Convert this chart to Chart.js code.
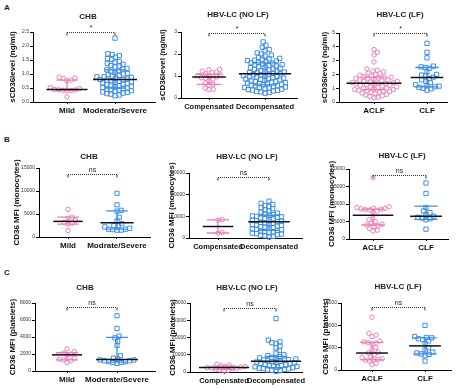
<!DOCTYPE html>
<html>
<head>
<meta charset="utf-8">
<script src="https://cdn.jsdelivr.net/npm/chart.js@4.4.1/dist/chart.umd.min.js"></script>
<style>
body { margin: 0; background: #fff; width: 457px; height: 388px; overflow: hidden; position: relative; font-family: "Liberation Sans", Arial, sans-serif; }
canvas { position: absolute; left: 0; top: 0; }
.tag { position: absolute; font-weight: bold; font-size: 8px; color: #222; }
</style>
</head>
<body>
<div class="tag" style="left:4px;top:3px">A</div>
<div class="tag" style="left:4px;top:135px">B</div>
<div class="tag" style="left:4px;top:268px">C</div>
<script>
// ---- values ----
var colTitles = ["CHB", "HBV-LC (NO LF)", "HBV-LC (LF)"];
var rowYTitles = ["sCD36level (ng/ml)", "CD36 MFI (monocytes)", "CD36 MFI (platelets)"];
var catNames = [
	["Mild", "Moderate/Severe"], ["Compensated", "Decompensated"], ["ACLF", "CLF"],
	["Mild", "Modrate/Severe"], ["Compensated", "Decompensated"], ["ACLF", "CLF"],
	["Mild", "Moderate/Severe"], ["Compensated", "Decompensated"], ["ACLF", "CLF"]
];
var sigLabels = ["*", "*", "*", "ns", "ns", "ns", "ns", "ns", "ns"];
var yMax = [2.5, 3, 5, 15000, 30000, 20000, 8000, 40000, 15000];
var yStep = [0.5, 1, 1, 5000, 10000, 5000, 2000, 10000, 5000];
var bracketAt = [2.5, 2.95, 5.0, 13800, 28000, 18300, 7550, 37100, 14000];

// A: soluble CD36
var solChbMild = [0.88, 0.86, 0.84, 0.78, 0.76, 0.52, 0.48, 0.45, 0.44, 0.43, 0.42, 0.41, 0.4, 0.18];
var solChbSevere = [2.28, 1.72, 1.7, 1.66, 1.6, 1.55, 1.52, 1.45, 1.42, 1.38, 1.35, 1.3, 1.28, 1.25, 1.2,
	1.18, 1.15, 1.12, 1.1, 1.05, 1.02, 1.0, 0.98, 0.95, 0.93, 0.9, 0.9, 0.88, 0.85, 0.82, 0.8, 0.8, 0.78,
	0.76, 0.74, 0.72, 0.7, 0.68, 0.66, 0.64, 0.62, 0.6, 0.58, 0.56, 0.54, 0.52, 0.5, 0.48, 0.46, 0.44,
	0.42, 0.4, 0.38, 0.36, 0.34, 0.32, 0.3, 0.28, 0.25, 0.22];
var solLcComp = [1.3, 1.28, 1.22, 1.18, 1.15, 1.1, 1.05, 1.02, 1.0, 0.96, 0.92, 0.9, 0.85, 0.78, 0.68,
	0.62, 0.58, 0.45, 0.4, 0.38];
var solLcDecomp = [2.55, 2.4, 2.3, 2.2, 2.15, 2.05, 2.0, 1.95, 1.9, 1.85, 1.8, 1.78, 1.75, 1.72, 1.7, 1.68,
	1.65, 1.62, 1.6, 1.58, 1.55, 1.52, 1.5, 1.48, 1.45, 1.42, 1.4, 1.38, 1.35, 1.32, 1.3, 1.28, 1.25, 1.22,
	1.2, 1.18, 1.16, 1.15, 1.12, 1.1, 1.08, 1.06, 1.05, 1.02, 1.0, 0.98, 0.96, 0.95, 0.92, 0.9, 0.88, 0.86,
	0.85, 0.82, 0.8, 0.78, 0.76, 0.75, 0.72, 0.7, 0.68, 0.66, 0.65, 0.62, 0.6, 0.58, 0.56, 0.55, 0.52, 0.5,
	0.48, 0.46, 0.45, 0.42, 0.4, 0.38, 0.36, 0.35, 0.32, 0.3, 0.28, 0.25, 0.22];
var solLfAclf = [3.8, 3.6, 3.4, 2.9, 2.4, 2.3, 2.25, 2.2, 2.1, 2.05, 2.0, 1.95, 1.9, 1.85, 1.8, 1.8, 1.75,
	1.7, 1.7, 1.65, 1.6, 1.6, 1.55, 1.5, 1.5, 1.45, 1.4, 1.4, 1.38, 1.35, 1.3, 1.3, 1.25, 1.2, 1.2, 1.15,
	1.1, 1.1, 1.05, 1.0, 1.0, 0.95, 0.9, 0.9, 0.85, 0.8, 0.8, 0.75, 0.7, 0.7, 0.65, 0.6, 0.55, 0.5, 0.45,
	0.4, 0.35, 0.3];
var solLfClf = [4.25, 3.6, 3.2, 2.6, 2.55, 2.5, 2.45, 2.2, 2.0, 1.95, 1.9, 1.8, 1.7, 1.6, 1.5, 1.4, 1.25,
	1.2, 1.15, 1.1, 1.05, 1.0, 0.95, 0.85];

// B: monocyte CD36 MFI
var monoChbMild = [6000, 4300, 4100, 3600, 3200, 3000, 2800, 1400];
var monoChbSevere = [9500, 7000, 5800, 5600, 4300, 3500, 2900, 2500, 2400, 2200, 1900, 1700, 1700, 1600, 1500, 1500];
var monoLcComp = [8500, 8200, 2600, 2200];
var monoLcDecomp = [17000, 16000, 15500, 15000, 14500, 14000, 13500, 13000, 12500, 12000, 11500, 11000,
	10800, 10500, 10200, 10000, 9800, 9500, 9200, 9000, 8800, 8500, 8200, 8000, 7800, 7500, 7200, 7000,
	6800, 6500, 6200, 6000, 5800, 5500, 5200, 5000, 4800, 4500, 4200, 4000, 3800, 3500, 3200, 3000, 2800,
	2500, 2200, 2000, 1800, 1500, 1200, 1000, 800, 500];
var monoLfAclf = [17500, 9200, 9000, 8800, 8700, 8600, 8500, 8400, 8300, 8000, 7500, 6000, 5500, 5000,
	4500, 4200, 4000, 3800, 3500, 3000, 2500, 2300];
var monoLfClf = [16000, 13000, 9000, 8000, 7500, 7000, 6500, 6200, 6000, 5800, 5500, 2800];

// C: platelet CD36 MFI
var pltChbMild = [2600, 2300, 2100, 2000, 1800, 1500, 1400, 1300, 1200, 1000];
var pltChbSevere = [6500, 5000, 4100, 3900, 3500, 3000, 1800, 1500, 1400, 1300, 1300, 1200, 1200, 1100,
	1100, 1000, 1000, 900];
var pltLcComp = [4500, 4000, 3600, 3200, 3000, 2800, 2500, 2300, 2000, 1800, 1500, 1200, 1000, 600];
var pltLcDecomp = [31000, 18500, 17500, 17000, 16500, 15000, 14000, 12500, 11000, 10000, 9500, 9000, 8500,
	8200, 8000, 7500, 7200, 7000, 6800, 6500, 6200, 6000, 5800, 5500, 5200, 5000, 4800, 4500, 4200, 4000,
	3800, 3500, 3200, 3000, 2800, 2500, 2200, 2000, 1800, 1500, 1200, 1000, 800, 500];
var pltLfAclf = [11800, 8200, 7800, 7500, 6500, 6300, 6200, 6000, 5800, 5000, 4500, 4000, 3800, 3500,
	3000, 2800, 2500, 2400, 2300, 2200, 2000, 1500, 1200];
var pltLfClf = [10000, 7500, 7300, 7200, 7000, 6800, 6500, 6000, 5000, 4500, 4000, 3800, 3600, 3500, 3200, 2000];

// medians and interquartile ranges [left group, right group]
var medians = [[0.45, 0.8], [0.95, 1.1], [1.35, 1.78], [3400, 3100], [5300, 7500], [6800, 6500],
	[1900, 1350], [2600, 6300], [3800, 5400]];
var q1s = [[0.42, 0.5], [0.62, 0.6], [0.9, 1.1], [2800, 1700], [2300, 3500], [4000, 5600],
	[1300, 1050], [1500, 2500], [2300, 3600]];
var q3s = [[0.78, 1.15], [1.08, 1.6], [1.8, 2.5], [4300, 5700], [8400, 10500], [8500, 9400],
	[2150, 3950], [3500, 9000], [6200, 7200]];

var groups = [
	[solChbMild, solChbSevere], [solLcComp, solLcDecomp], [solLfAclf, solLfClf],
	[monoChbMild, monoChbSevere], [monoLcComp, monoLcDecomp], [monoLfAclf, monoLfClf],
	[pltChbMild, pltChbSevere], [pltLcComp, pltLcDecomp], [pltLfAclf, pltLfClf]
];

// ---- layout (pixels): plot box, category centres, title spot, y-title x ----
var boxes = [
	{ l: 33, t: 32, r: 155, b: 102, c0: 67, c1: 115, tx: 88, ty: 17, yt: 13 },
	{ l: 181, t: 32, r: 297, b: 98, c0: 209, c1: 265, tx: 238, ty: 15, yt: 163 },
	{ l: 339, t: 33, r: 447, b: 102, c0: 374, c1: 427, tx: 400, ty: 15, yt: 325 },
	{ l: 39, t: 168, r: 150, b: 237, c0: 68, c1: 117, tx: 89, ty: 157, yt: 17 },
	{ l: 189, t: 173, r: 302, b: 238, c0: 218, c1: 269, tx: 247, ty: 157, yt: 172 },
	{ l: 349, t: 169, r: 448, b: 239, c0: 373, c1: 426, tx: 402, ty: 156, yt: 332 },
	{ l: 35, t: 303, r: 155, b: 371, c0: 67, c1: 117, tx: 85, ty: 288, yt: 13 },
	{ l: 190, t: 303, r: 302, b: 372, c0: 224, c1: 276, tx: 247, ty: 288, yt: 173 },
	{ l: 341, t: 303, r: 451, b: 370, c0: 372, c1: 425, tx: 398, ty: 287, yt: 326 }
];
var colors = ["#ec7fb8", "#3f8ee6"];
var FONT = '"Liberation Sans", Arial, sans-serif';
Chart.defaults.font.family = FONT;

// simple beeswarm: spread points sideways so the markers do not sit on top of each other
function swarm(vals, centre, pxX, pxY, d) {
	var placed = [];
	var out = [];
	var order = vals.map(function(v, k) { return k; }).sort(function(a, b) { return vals[a] - vals[b]; });
	order.forEach(function(k) {
		var y = vals[k] * pxY;
		var cands = [0];
		placed.forEach(function(p) {
			var dy = Math.abs(p.y - y);
			if (dy < d) {
				var dx = Math.sqrt(d * d - dy * dy);
				cands.push(p.x + dx, p.x - dx);
			}
		});
		cands.sort(function(a, b) { return Math.abs(a) - Math.abs(b); });
		var x = cands.find(function(c) {
			return placed.every(function(p) {
				return (p.x - c) * (p.x - c) + (p.y - y) * (p.y - y) >= d * d - 0.01;
			});
		});
		placed.push({ x: x, y: y });
		out[k] = { x: centre + x / pxX, y: vals[k] };
	});
	return out;
}

var overlay = {
	id: "overlay",
	afterDatasetsDraw: function(chart) {
		var i = chart.options.panelIndex;
		var ctx = chart.ctx;
		var xs = chart.scales.x, ys = chart.scales.y;
		var box = boxes[i];

		ctx.save();
		// interquartile bars and medians
		for (var g = 0; g < 2; g++) {
			var pts = chart.data.datasets[g].data;
			var spread = 0;
			pts.forEach(function(p) { spread = Math.max(spread, Math.abs(p.x - g)); });
			var half = Math.max(0.3, spread + 0.08);
			var cx = xs.getPixelForValue(g);
			var capL = xs.getPixelForValue(g - 0.22), capR = xs.getPixelForValue(g + 0.22);
			var yq1 = ys.getPixelForValue(q1s[i][g]), yq3 = ys.getPixelForValue(q3s[i][g]);
			ctx.strokeStyle = colors[g];
			ctx.lineWidth = 1.3;
			ctx.setLineDash([]);
			ctx.beginPath();
			ctx.moveTo(cx, yq1); ctx.lineTo(cx, yq3);
			ctx.moveTo(capL, yq1); ctx.lineTo(capR, yq1);
			ctx.moveTo(capL, yq3); ctx.lineTo(capR, yq3);
			ctx.stroke();

			var ym = ys.getPixelForValue(medians[i][g]);
			ctx.strokeStyle = "#111";
			ctx.lineWidth = 1.5;
			ctx.beginPath();
			ctx.moveTo(xs.getPixelForValue(g - half), ym);
			ctx.lineTo(xs.getPixelForValue(g + half), ym);
			ctx.stroke();
		}

		// significance bracket
		var by = Math.round(ys.getPixelForValue(bracketAt[i])) + 0.5;
		var bx0 = xs.getPixelForValue(0), bx1 = xs.getPixelForValue(1);
		ctx.strokeStyle = "#333";
		ctx.lineWidth = 1;
		ctx.setLineDash([1, 1]);
		ctx.beginPath();
		ctx.moveTo(bx0, by); ctx.lineTo(bx1, by);
		ctx.stroke();
		ctx.setLineDash([]);
		ctx.beginPath();
		ctx.moveTo(bx0, by); ctx.lineTo(bx0, by + 3);
		ctx.moveTo(bx1, by); ctx.lineTo(bx1, by + 3);
		ctx.stroke();
		ctx.fillStyle = "#222";
		ctx.textAlign = "center";
		ctx.textBaseline = "bottom";
		ctx.font = "7px " + FONT;
		ctx.fillText(sigLabels[i], (bx0 + bx1) / 2, by - 1);

		// panel title
		ctx.font = "bold 8px " + FONT;
		ctx.textBaseline = "middle";
		ctx.fillText(colTitles[i % 3], box.tx, box.ty);
		ctx.restore();
	}
};

function makePanel(i) {
	var box = boxes[i];
	var cv = document.createElement("canvas");
	cv.width = 457;
	cv.height = 388;
	document.body.appendChild(cv);

	var unit = box.c1 - box.c0;
	var xmin = -(box.c0 - box.l) / unit;
	var xmax = 1 + (box.r - box.c1) / unit;
	var pxY = (box.b - box.t) / yMax[i];
	var padLeft = box.yt - 5;
	var xh = 16;
	var catSize = (i % 3 === 1) ? 7.5 : 8;

	var datasets = groups[i].map(function(vals, g) {
		return {
			data: swarm(vals, g, unit, pxY, 4.3),
			pointStyle: g === 0 ? "circle" : "rect",
			pointRadius: g === 0 ? 2.2 : 3.0,
			pointBorderWidth: 1,
			pointBorderColor: colors[g],
			pointBackgroundColor: "rgba(255,255,255,0)",
			clip: false
		};
	});

	new Chart(cv, {
		type: "scatter",
		data: { datasets: datasets },
		options: {
			panelIndex: i,
			responsive: false,
			animation: false,
			devicePixelRatio: 1,
			events: [],
			layout: { padding: { left: padLeft, top: box.t, right: 457 - box.r, bottom: 388 - box.b - xh } },
			plugins: { legend: { display: false }, tooltip: { enabled: false } },
			scales: {
				x: {
					type: "linear",
					min: xmin,
					max: xmax,
					afterBuildTicks: function(s) { s.ticks = [{ value: 0 }, { value: 1 }]; },
					afterFit: function(s) { s.height = xh; },
					ticks: {
						autoSkip: false,
						maxRotation: 0,
						padding: 2,
						color: "#111",
						font: { size: catSize, weight: "bold" },
						callback: function(v) { return catNames[i][v]; }
					},
					grid: { drawOnChartArea: false, tickLength: 2, color: "#000" },
					border: { color: "#000" }
				},
				y: {
					min: 0,
					max: yMax[i],
					afterFit: function(s) { s.width = box.l - padLeft; },
					ticks: {
						stepSize: yStep[i],
						padding: 1,
						color: "#333",
						font: { size: 5 },
						callback: function(v) { return i < 1 ? v.toFixed(1) : String(v); }
					},
					title: {
						display: true,
						text: rowYTitles[Math.floor(i / 3)],
						color: "#111",
						padding: 0,
						font: { size: 8, weight: "bold" }
					},
					grid: { drawOnChartArea: false, tickLength: 3, color: "#000" },
					border: { color: "#000" }
				}
			}
		},
		plugins: [overlay]
	});
}

for (var p = 0; p < boxes.length; p++) {
	makePanel(p);
}
</script>
</body>
</html>
